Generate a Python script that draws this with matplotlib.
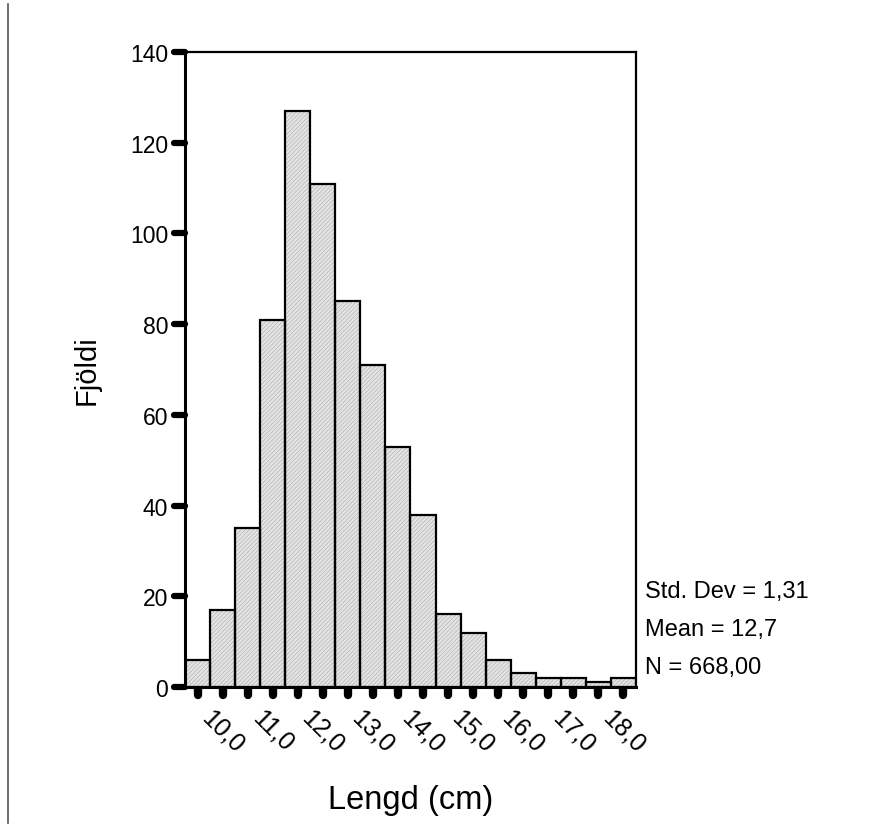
import matplotlib
matplotlib.use("Agg")
import matplotlib.pyplot as plt
import numpy as np
from matplotlib.lines import Line2D
from matplotlib.markers import MarkerStyle, TICKDOWN, TICKLEFT

plt.rcParams['font.family'] = ['Liberation Sans', 'DejaVu Sans']
plt.rcParams['hatch.linewidth'] = 0.5

# histogram of lengths, bin centres every 0.5 cm
bin_centres = [9.5, 10.0, 10.5, 11.0, 11.5, 12.0, 12.5, 13.0, 13.5,
               14.0, 14.5, 15.0, 15.5, 16.0, 16.5, 17.0, 17.5, 18.0]
counts = [6, 17, 35, 81, 127, 111, 85, 71, 53, 38, 16, 12, 6, 3, 2, 2, 1, 2]
stats = ["Std. Dev = 1,31", "Mean = 12,7", "N = 668,00"]

fig = plt.figure(figsize=(8.91, 8.29), dpi=100)
ax = fig.add_axes([0.2076, 0.1701, 0.5062, 0.766])

# fill with a fine grey texture, then the black outlines on top
ax.bar(bin_centres, counts, width=0.5, color='#e4e4e4', edgecolor='#b4b4b4',
       linewidth=0, hatch='////////', zorder=2)
ax.bar(bin_centres, counts, width=0.5, fill=False, edgecolor='black',
       linewidth=1.6, zorder=3)

ax.set_xlim(9.25, 18.25)
ax.set_ylim(0, 140)

ax.set_yticks(np.arange(0, 141, 20))
ax.set_yticklabels([str(v) for v in range(0, 141, 20)], fontsize=16.5)
ax.set_xticks(bin_centres)
lab = []
for c in bin_centres:
    lab.append(f"{c:.1f}".replace(".", ",") if c == int(c) else "")
ax.set_xticklabels(lab, fontsize=18, rotation=-45, ha='center', va='top')

ax.tick_params(axis='x', direction='out', length=6, width=6, pad=7)
ax.tick_params(axis='y', direction='out', length=8, width=4.5, pad=4)
for t in ax.xaxis.get_major_ticks():
    t.tick1line.set_marker(MarkerStyle(TICKDOWN, capstyle='round'))
for t in ax.yaxis.get_major_ticks():
    t.tick1line.set_marker(MarkerStyle(TICKLEFT, capstyle='round'))

for side in ['left', 'bottom']:
    ax.spines[side].set_linewidth(2.2)
for side in ['top', 'right']:
    ax.spines[side].set_linewidth(1.6)

ax.set_ylabel("Fjöldi", fontsize=21, labelpad=21)
ax.set_xlabel("Lengd (cm)", fontsize=23.5, labelpad=20)

for i, s in enumerate(stats):
    fig.text(645 / 891, 1 - (592 + 38 * i) / 829, s, fontsize=17,
             ha='left', va='center')

fig.add_artist(Line2D([0.009, 0.009], [0.006, 0.994], color='#555555',
                      linewidth=1.2, transform=fig.transFigure))

fig.savefig("out.png", dpi=100)
